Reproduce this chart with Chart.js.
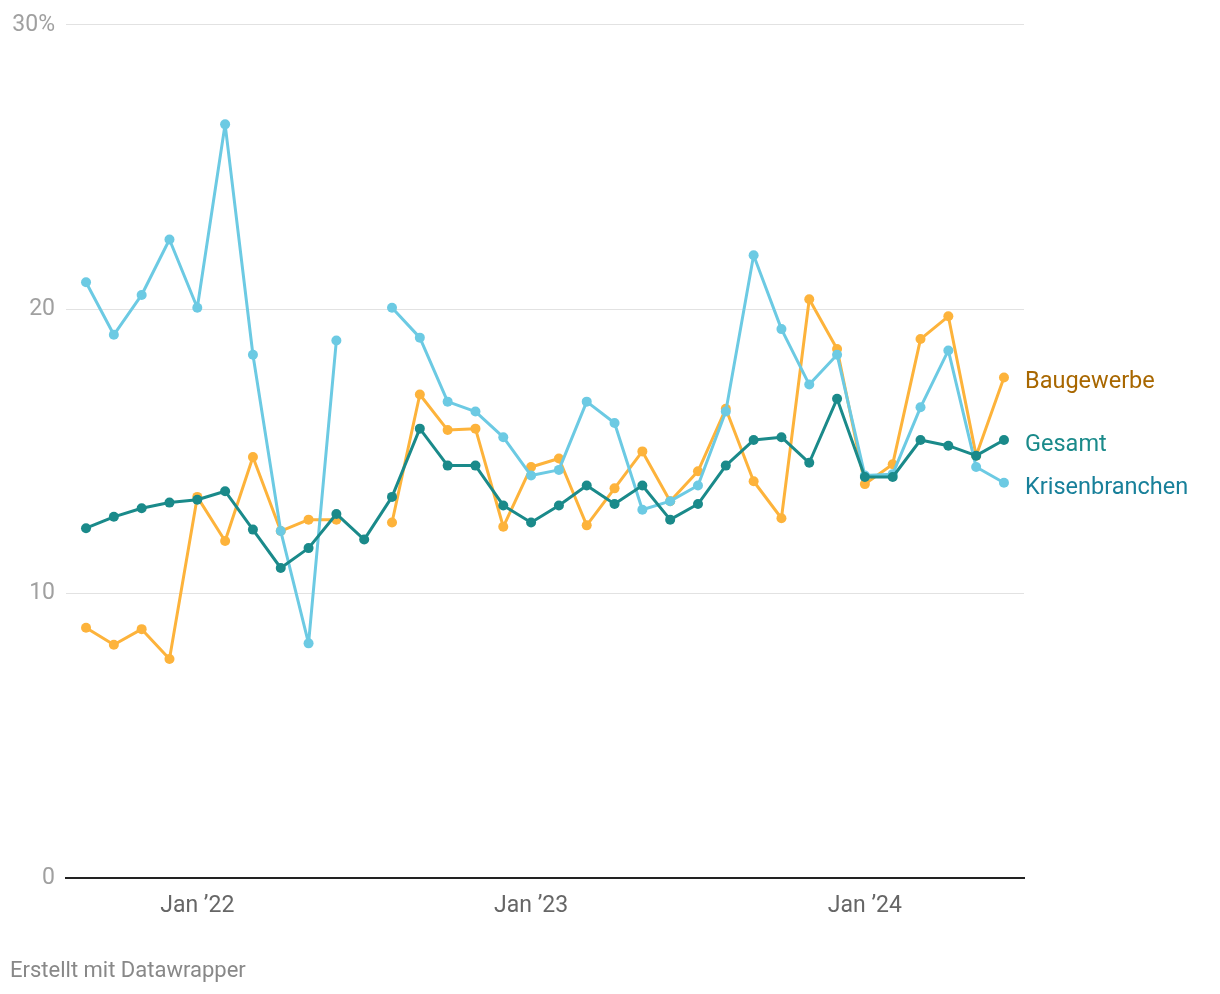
<!DOCTYPE html>
<html>
<head>
<meta charset="utf-8">
<script src="https://cdn.jsdelivr.net/npm/chart.js@4"></script>
<style>
  body { margin: 0; background: #fff; font-family: Roboto, sans-serif; }
  #wrap { position: relative; width: 1220px; height: 994px; }
  #footer { position: absolute; left: 10px; top: 957px; font-size: 22px; color: #888; }
</style>
</head>
<body>
<div id="wrap">
  <canvas id="chart" width="1220" height="994"></canvas>
  <div id="footer">Erstellt mit Datawrapper</div>
</div>
<script>
// Monate Sep 2021 bis Jun 2024
var months = ['2021-09','2021-10','2021-11','2021-12','2022-01','2022-02','2022-03','2022-04','2022-05','2022-06','2022-07','2022-08',
  '2022-09','2022-10','2022-11','2022-12','2023-01','2023-02','2023-03','2023-04','2023-05','2023-06','2023-07','2023-08',
  '2023-09','2023-10','2023-11','2023-12','2024-01','2024-02','2024-03','2024-04','2024-05','2024-06'];

var gesamt = [12.3, 12.7, 13.0, 13.2, 13.3, 13.6, 12.25, 10.9, 11.6, 12.8, 11.9, 13.4,
  15.8, 14.5, 14.5, 13.1, 12.5, 13.1, 13.8, 13.15, 13.8, 12.6, 13.15, 14.5,
  15.4, 15.5, 14.6, 16.85, 14.1, 14.1, 15.4, 15.2, 14.85, 15.4];

var baugewerbe = [8.8, 8.2, 8.75, 7.7, 13.4, 11.85, 14.8, 12.2, 12.6, 12.6, null, 12.5,
  17.0, 15.75, 15.8, 12.35, 14.45, 14.75, 12.4, 13.7, 15.0, 13.25, 14.3, 16.5,
  13.95, 12.65, 20.35, 18.6, 13.85, 14.55, 18.95, 19.75, 14.85, 17.6];

var krisen = [20.95, 19.1, 20.5, 22.45, 20.05, 26.5, 18.4, 12.2, 8.25, 18.9, null, 20.05,
  19.0, 16.75, 16.4, 15.5, 14.15, 14.35, 16.75, 16.0, 12.95, 13.25, 13.8, 16.4,
  21.9, 19.3, 17.35, 18.4, 14.15, 14.2, 16.55, 18.55, 14.45, 13.9];

var xTickPos = [4, 16, 28];
var xTickLabels = ['Jan \u201922', 'Jan \u201923', 'Jan \u201924'];
var yTickLabels = ['0', '10', '20', '30%'];

function pts(arr) {
  return arr.map(function (v, i) { return { x: i, y: v }; });
}

var endLabels = {
  id: 'endLabels',
  afterDatasetsDraw: function (chart) {
    var ctx = chart.ctx;
    ctx.save();
    ctx.font = '23.5px Roboto';
    ctx.textBaseline = 'middle';
    ctx.textAlign = 'left';
    chart.data.datasets.forEach(function (ds, i) {
      var meta = chart.getDatasetMeta(i);
      var last = meta.data[meta.data.length - 1];
      ctx.fillStyle = ds.labelColor;
      ctx.fillText(ds.label, 1025, last.y + 5);
    });
    ctx.restore();
  }
};

new Chart(document.getElementById('chart'), {
  type: 'line',
  data: {
    datasets: [{
      label: 'Gesamt',
      data: pts(gesamt),
      borderColor: '#1a8a8a',
      backgroundColor: '#1a8a8a',
      labelColor: '#1a8a8a'
    }, {
      label: 'Krisenbranchen',
      data: pts(krisen),
      borderColor: '#6ccae3',
      backgroundColor: '#6ccae3',
      labelColor: '#18809a'
    }, {
      label: 'Baugewerbe',
      data: pts(baugewerbe),
      borderColor: '#fdb33b',
      backgroundColor: '#fdb33b',
      labelColor: '#a86700'
    }]
  },
  options: {
    responsive: false,
    animation: false,
    layout: { padding: { top: 23, right: 196, bottom: 66, left: 0 } },
    elements: {
      line: { borderWidth: 3, tension: 0, borderJoinStyle: 'round', borderCapStyle: 'round' },
      point: { radius: 5, borderWidth: 0, hoverRadius: 5 }
    },
    plugins: { legend: { display: false }, tooltip: { enabled: false } },
    scales: {
      x: {
        type: 'linear',
        min: -0.72,
        max: 33.72,
        afterBuildTicks: function (scale) {
          scale.ticks = xTickPos.map(function (v) { return { value: v }; });
        },
        afterFit: function (scale) { scale.height = 50; },
        grid: { display: false, drawTicks: false },
        border: { display: true, color: '#222', width: 2 },
        ticks: {
          padding: 14,
          color: '#666',
          font: { family: 'Roboto', size: 23 },
          maxRotation: 0,
          autoSkip: false,
          callback: function (v) { return xTickLabels[xTickPos.indexOf(v)]; }
        }
      },
      y: {
        min: 0,
        max: 30,
        afterFit: function (scale) { scale.width = 66; },
        grid: { color: '#e2e2e2', lineWidth: 1, drawTicks: false },
        border: { display: false },
        ticks: {
          stepSize: 10,
          padding: 11,
          color: '#a0a0a0',
          font: { family: 'Roboto', size: 23 },
          callback: function (v) { return yTickLabels[v / 10]; }
        }
      }
    }
  },
  plugins: [endLabels]
});
</script>
</body>
</html>
